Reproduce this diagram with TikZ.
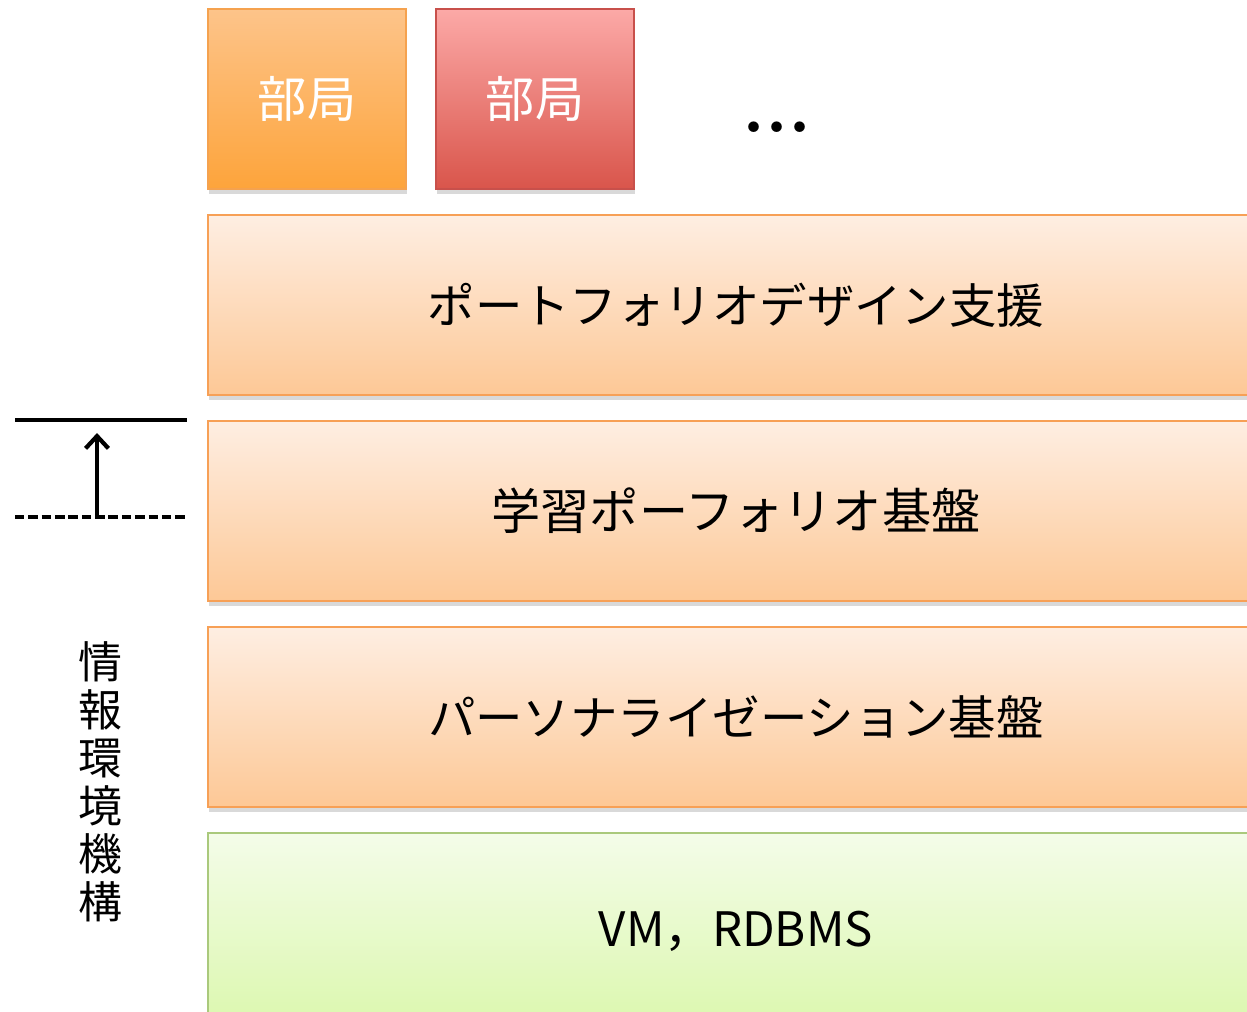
\documentclass[tikz,border=0pt]{standalone}
\usepackage{fontspec}
\newfontfamily\jpfont{Noto Sans CJK JP}
\usetikzlibrary{shadows,arrows.meta}
\definecolor{deptOtop}{HTML}{FDC48A}
\definecolor{deptObot}{HTML}{FDA43B}
\definecolor{deptOline}{HTML}{F5A24F}
\definecolor{deptRtop}{HTML}{FCA9A7}
\definecolor{deptRbot}{HTML}{D9554B}
\definecolor{deptRline}{HTML}{C8504B}
\definecolor{layerTop}{HTML}{FEEEE2}
\definecolor{layerBot}{HTML}{FDC896}
\definecolor{layerLine}{HTML}{F7A056}
\definecolor{baseTop}{HTML}{F4FCE9}
\definecolor{baseBot}{HTML}{DDF8B2}
\definecolor{baseLine}{HTML}{AAC97C}
\tikzset{
  box/.style={anchor=north west, inner sep=0pt, line width=1.2pt,
    drop shadow={opacity=0.3, shadow xshift=0.02cm, shadow yshift=-0.09cm},
    font=\jpfont\fontsize{27}{30}\selectfont},
  dept/.style={box, minimum width=3.96cm, minimum height=3.6cm, text=white,
    font=\jpfont\fontsize{28}{32}\selectfont},
  layer/.style={box, minimum width=21.12cm, minimum height=3.6cm,
    top color=layerTop, bottom color=layerBot, draw=layerLine},
  rule/.style={line width=2.4pt},
}
\begin{document}
\begin{tikzpicture}[x=0.02cm,y=-0.02cm]
\clip (0,0) rectangle (1247,1011);
% departments
\node[dept, top color=deptOtop, bottom color=deptObot, draw=deptOline] (deptA) at (207,8) {部局};
\node[dept, top color=deptRtop, bottom color=deptRbot, draw=deptRline] (deptB) at (435,8) {部局};
\node[font=\bfseries\fontsize{42}{44}\selectfont] (more) at (777,127) {...};
% layers
\node[layer] (design) at (207,214) {ポートフォリオデザイン支援};
\node[layer, font=\jpfont\fontsize{28}{30}\selectfont] (portal) at (207,420) {学習ポーフォリオ基盤};
\node[layer] (person) at (207,626) {パーソナライゼーション基盤};
\node[layer, top color=baseTop, bottom color=baseBot, draw=baseLine,
  text height=30pt] (infra) at (207,832) {VM，RDBMS};
% left side
\coordinate (upperL) at (15,420);
\coordinate (upperR) at (187,420);
\coordinate (lowerL) at (15,517);
\coordinate (lowerR) at (187,517);
\coordinate (from) at (97,517);
\coordinate (to) at (97,433);
\draw[rule] (upperL) -- (upperR);
\draw[rule, dash pattern=on 5.4pt off 2.2pt] (lowerL) -- (lowerR);
\draw[rule, -{Straight Barb[length=7pt,width=13pt,line width=2.4pt]}] (from) -- (to);
\node[align=center, inner sep=0pt, font=\jpfont\fontsize{25}{27.3}\selectfont] (org) at (100,782) {情\\報\\環\\境\\機\\構};
\end{tikzpicture}
\end{document}
